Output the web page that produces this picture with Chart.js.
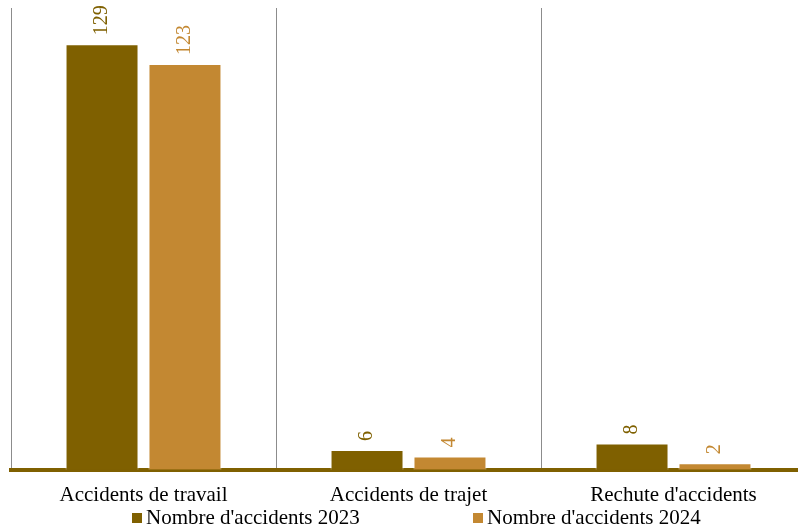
<!DOCTYPE html>
<html>
<head>
<meta charset="utf-8">
<script src="https://cdn.jsdelivr.net/npm/chart.js@4/dist/chart.umd.min.js"></script>
<style>
  html, body { margin: 0; padding: 0; background: #fff; overflow: hidden; }
  #wrap { position: relative; width: 808px; height: 529px; }
  #legend { position: absolute; top: 505px; left: 0; width: 798px; height: 24px;
            font-family: "Liberation Serif", serif; font-size: 21px; color: #000; }
  #legend span.item { position: absolute; top: 0; white-space: nowrap; line-height: 24px; }
  #legend i { display: inline-block; width: 10px; height: 10px; margin-right: 4px; vertical-align: 1px; }
</style>
</head>
<body>
<div id="wrap">
  <canvas id="c" width="808" height="529"></canvas>
  <div id="legend"></div>
</div>
<script>
// catégories et valeurs
const categories = ["Accidents de travail", "Accidents de trajet", "Rechute d'accidents"];
const seriesNames = ["Nombre d'accidents 2023", "Nombre d'accidents 2024"];
const values2023 = [129, 6, 8];
const values2024 = [123, 4, 2];
const colors = ["#7F6000", "#C38832"];
const legendX = [132, 473];

// étiquettes verticales au-dessus des barres
const rotatedLabels = {
    id: 'rotatedLabels',
    afterDatasetsDraw(chart) {
        const ctx = chart.ctx;
        chart.data.datasets.forEach((ds, i) => {
            chart.getDatasetMeta(i).data.forEach((bar, j) => {
                ctx.save();
                ctx.translate(bar.x, bar.y - 9);
                ctx.rotate(-Math.PI / 2);
                ctx.font = '20px "Liberation Serif", serif';
                ctx.fillStyle = ds.backgroundColor;
                ctx.textAlign = 'left';
                ctx.textBaseline = 'middle';
                ctx.fillText(String(ds.data[j]), 0, 0);
                ctx.restore();
            });
        });
    }
};

new Chart(document.getElementById('c'), {
    type: 'bar',
    data: {
        labels: categories,
        datasets: [
            { label: seriesNames[0], data: values2023, backgroundColor: colors[0],
              borderColor: 'rgba(255,255,255,0.6)', borderWidth: 1 },
            { label: seriesNames[1], data: values2024, backgroundColor: colors[1],
              borderColor: 'rgba(255,255,255,0.6)', borderWidth: 1 }
        ]
    },
    options: {
        responsive: false,
        animation: false,
        categoryPercentage: 0.626,
        barPercentage: 0.88,
        layout: { padding: { top: 8, left: 11, right: 2, bottom: 8 } },
        scales: {
            x: {
                grid: { color: '#8c8c8c', lineWidth: 1, drawTicks: false },
                border: { display: true, color: colors[0], width: 4 },
                ticks: { color: '#000', padding: 13,
                         font: { family: '"Liberation Serif", serif', size: 21 } }
            },
            y: {
                display: false,
                min: 0, max: 140
            }
        },
        plugins: {
            legend: { display: false },
            tooltip: { enabled: false }
        }
    },
    plugins: [rotatedLabels]
});

// légende
const leg = document.getElementById('legend');
seriesNames.forEach((n, i) => {
    const s = document.createElement('span');
    s.className = 'item';
    s.style.left = legendX[i] + 'px';
    s.innerHTML = '<i style="background:' + colors[i] + '"></i>' + n;
    leg.appendChild(s);
});
</script>
</body>
</html>
